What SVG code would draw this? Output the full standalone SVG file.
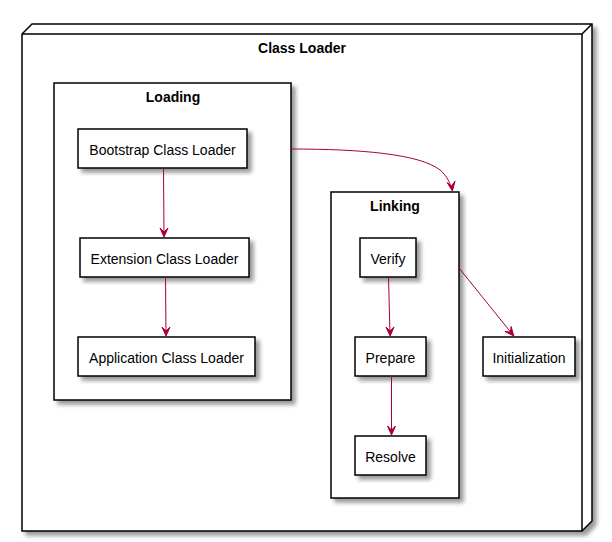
<svg xmlns="http://www.w3.org/2000/svg" width="612" height="542" viewBox="0 0 612 542">
<style>
.box{fill:#FFFFFF;stroke:#000000;stroke-width:1.5;filter:url(#sh);}
.lbl{font-family:"Liberation Sans",Arial,sans-serif;font-size:14px;fill:#000000;text-anchor:middle;}
.ttl{font-family:"Liberation Sans",Arial,sans-serif;font-size:14px;font-weight:bold;fill:#000000;text-anchor:middle;}
.edge{fill:none;stroke:#A80036;stroke-width:1;}
.head{fill:#A80036;stroke:#A80036;stroke-width:1;}
</style>
<defs>
<filter id="sh" x="-10%" y="-10%" width="130%" height="130%">
<feGaussianBlur in="SourceAlpha" stdDeviation="2" result="b"/>
<feOffset in="b" dx="4" dy="4" result="o"/>
<feComponentTransfer in="o" result="c"><feFuncA type="linear" slope="0.4"/></feComponentTransfer>
<feMerge><feMergeNode in="c"/><feMergeNode in="SourceGraphic"/></feMerge>
</filter>
</defs>
<rect width="612" height="542" fill="#FFFFFF"/>
<g id="class-loader">
<polygon class="box" points="22,34 32,24 592,24 592,521 582,531 22,531"/>
<path d="M582,34 L592,24 M22,34 L582,34 L582,531" fill="none" stroke="#000000" stroke-width="1.5"/>
<text class="ttl" x="302" y="53">Class Loader</text>
</g>
<g id="loading">
<rect class="box" x="54" y="83" width="237" height="317"/>
<text class="ttl" x="173" y="102">Loading</text>
</g>
<g id="linking">
<rect class="box" x="331" y="192" width="128" height="306"/>
<text class="ttl" x="395" y="211">Linking</text>
</g>
<g id="bootstrap">
<rect class="box" x="78" y="129" width="169" height="39"/>
<text class="lbl" x="162.5" y="155">Bootstrap Class Loader</text>
</g>
<g id="extension">
<rect class="box" x="80" y="238" width="169" height="39"/>
<text class="lbl" x="164.5" y="264">Extension Class Loader</text>
</g>
<g id="application">
<rect class="box" x="78" y="337" width="177" height="39"/>
<text class="lbl" x="166.5" y="363">Application Class Loader</text>
</g>
<g id="verify">
<rect class="box" x="360" y="238" width="56" height="39"/>
<text class="lbl" x="388" y="264">Verify</text>
</g>
<g id="prepare">
<rect class="box" x="355" y="337" width="71" height="39"/>
<text class="lbl" x="390.5" y="363">Prepare</text>
</g>
<g id="resolve">
<rect class="box" x="355" y="436" width="71" height="39"/>
<text class="lbl" x="390.5" y="462">Resolve</text>
</g>
<g id="initialization">
<rect class="box" x="483" y="337" width="92" height="39"/>
<text class="lbl" x="529" y="363">Initialization</text>
</g>
<g id="connectors">
<path class="edge" d="M163.5,168 L164,236"/>
<polygon class="head" points="164,237 160,228 164,232 168,228"/>
<path class="edge" d="M165.5,277 L166,335"/>
<polygon class="head" points="166,336 162,327 166,331 170,327"/>
<path class="edge" d="M388.5,277 L390,335"/>
<polygon class="head" points="390.2,336 386,327.1 390.1,331 394,326.9"/>
<path class="edge" d="M391.5,376 L391.5,434"/>
<polygon class="head" points="391.5,435 387.5,426 391.5,430 395.5,426"/>
<path class="edge" d="M459,268 L513,335"/>
<polygon class="head" points="513.8,336 504.9,331.5 510.4,332.1 511.1,326.5"/>
<path class="edge" d="M291,149 C360,149 420,154 440,170 C446,175 450,182 452,190"/>
<polygon class="head" points="452.4,191 447.2,182.6 451.4,186.1 455,181.2"/>
</g>
</svg>
